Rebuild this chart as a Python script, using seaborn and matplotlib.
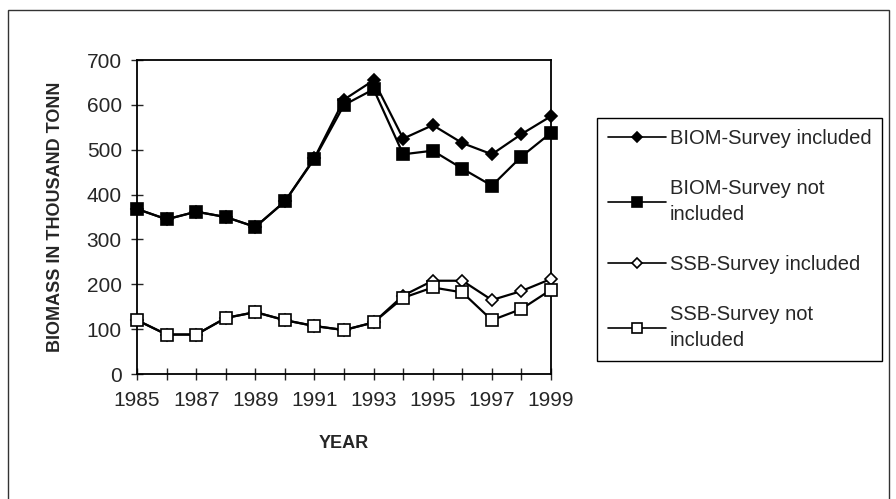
import matplotlib
matplotlib.use("Agg")
import matplotlib.pyplot as plt
import seaborn as sns
import pandas as pd
from matplotlib.patches import Rectangle

# data (thousand tonnes)
years = list(range(1985, 2000))
biom_incl = [368, 345, 362, 350, 328, 385, 482, 612, 655, 525, 555, 515, 490, 535, 575]
biom_not = [368, 345, 362, 350, 328, 385, 480, 600, 635, 490, 498, 458, 420, 485, 538]
ssb_incl = [120, 88, 88, 125, 138, 120, 107, 98, 115, 175, 208, 208, 165, 185, 212]
ssb_not = [120, 88, 88, 125, 138, 120, 107, 98, 115, 170, 193, 182, 120, 145, 188]

labels = ["BIOM-Survey included", "BIOM-Survey not\nincluded",
          "SSB-Survey included", "SSB-Survey not\nincluded"]

sns.set_style("ticks")
plt.rcParams['font.family'] = ['Liberation Sans', 'DejaVu Sans']

fig = plt.figure(figsize=(8.96, 4.99), dpi=100)
ax = fig.add_axes([0.153, 0.2505, 0.462, 0.629])

# outer frame around the whole picture
fig.patches.append(Rectangle((8 / 896, -0.05), 881 / 896, 1.05 - 10 / 499,
                             transform=fig.transFigure, fill=False,
                             edgecolor='#333333', linewidth=1.0))

styles = [
    (biom_incl, 'D', 'black', 6.5),
    (biom_not, 's', 'black', 9),
    (ssb_incl, 'D', 'white', 6.5),
    (ssb_not, 's', 'white', 8.5),
]
for (vals, mk, fc, ms), lab in zip(styles, labels):
    df = pd.DataFrame({'year': years, 'value': vals})
    sns.lineplot(data=df, x='year', y='value', ax=ax, color='black',
                 linewidth=1.6, marker=mk, markersize=ms,
                 markerfacecolor=fc, markeredgecolor='black',
                 markeredgewidth=1.2, label=lab, clip_on=False, zorder=3)

ax.set_xlim(1985, 1999)
ax.set_ylim(0, 700)
ax.set_xticks(years)
ax.set_xticklabels([str(y) if y % 2 == 1 else '' for y in years])
ax.set_yticks(range(0, 701, 100))
ax.tick_params(direction='inout', length=8, width=1, labelsize=15)
ax.tick_params(axis='x', pad=8)
ax.tick_params(axis='y', pad=7)
for s in ax.spines.values():
    s.set_linewidth(1.3)
    s.set_color('black')

ax.set_xlabel("YEAR", fontsize=13, fontweight='bold', labelpad=18)
ax.set_ylabel("BIOMASS IN THOUSAND TONN", fontsize=13, fontweight='bold', labelpad=16)

leg = ax.legend(loc='upper left', bbox_to_anchor=(597 / 896, 1 - 118 / 499),
                bbox_transform=fig.transFigure, fontsize=14.5, frameon=True,
                fancybox=False, edgecolor='black', framealpha=1,
                handlelength=2.9, handletextpad=0.15, labelspacing=1.55,
                borderpad=0.55, borderaxespad=0)
leg.get_frame().set_linewidth(1.0)
for t in leg.get_texts():
    t.set_linespacing(1.45)
for h in leg.legend_handles:
    h.set_linewidth(1.2)
    h.set_markersize(h.get_markersize() * 0.85)

fig.savefig("out.png", dpi=100)
